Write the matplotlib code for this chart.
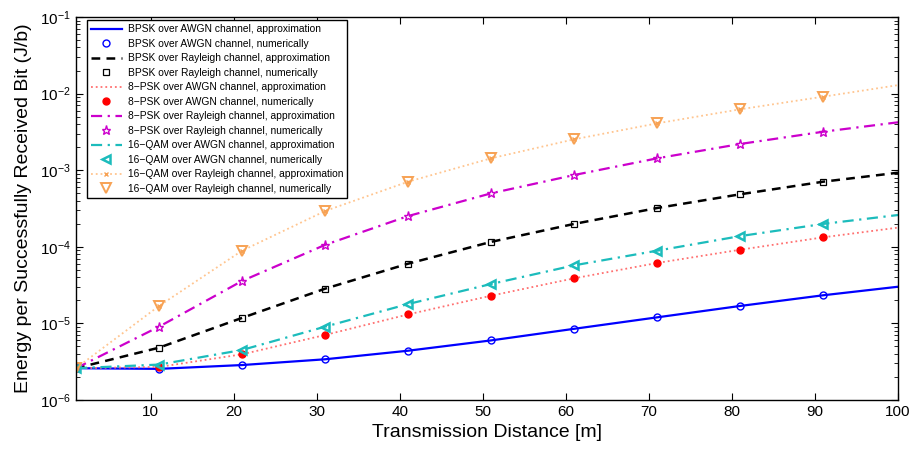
import numpy as np
import matplotlib.pyplot as plt

plt.rcParams['font.family'] = ['Liberation Sans', 'DejaVu Sans']

# distances [m]; approximation curves sampled at the same points plus the end point
d_num = [1, 11, 21, 31, 41, 51, 61, 71, 81, 91]
d_app = [1, 11, 21, 31, 41, 51, 61, 71, 81, 91, 100]

# energy per successfully received bit (J/b)
bpsk_awgn = [2.6e-6, 2.55e-6, 2.86e-6, 3.4e-6, 4.4e-6, 6.0e-6, 8.5e-6, 1.2e-5, 1.69e-5, 2.33e-5, 3.01e-5]
bpsk_ray = [2.6e-6, 4.82e-6, 1.18e-5, 2.84e-5, 6.02e-5, 1.16e-4, 1.99e-4, 3.21e-4, 4.85e-4, 7.08e-4, 9.27e-4]
psk8_awgn = [2.6e-6, 2.7e-6, 3.95e-6, 7.06e-6, 1.31e-5, 2.30e-5, 3.88e-5, 6.15e-5, 9.16e-5, 1.33e-4, 1.78e-4]
psk8_ray = [2.6e-6, 9.06e-6, 3.58e-5, 1.06e-4, 2.52e-4, 4.99e-4, 8.65e-4, 1.43e-3, 2.20e-3, 3.18e-3, 4.22e-3]
qam16_awgn = [2.6e-6, 2.9e-6, 4.5e-6, 9.06e-6, 1.79e-5, 3.27e-5, 5.73e-5, 8.9e-5, 1.38e-4, 1.99e-4, 2.60e-4]
qam16_ray = [2.6e-6, 1.69e-5, 8.9e-5, 2.93e-4, 7.08e-4, 1.43e-3, 2.53e-3, 4.09e-3, 6.24e-3, 9.12e-3, 1.29e-2]

fig = plt.figure(figsize=(9.2, 4.54), dpi=100)
ax = fig.add_axes([76/920, 54/454, 822/920, 383/454])

orange_line = '#FFC58F'
orange_mk = '#F7A254'
cyan = '#1CBCBC'

ax.semilogy(d_app, bpsk_awgn, '-', color='#0000FF', lw=1.6, label='BPSK over AWGN channel, approximation')
ax.semilogy(d_num, bpsk_awgn[:10], 'o', color='#0000FF', mfc='none', ms=5, mew=1.0, label='BPSK over AWGN channel, numerically')
ax.semilogy(d_app, bpsk_ray, '--', color='black', lw=1.8, dashes=(3.5, 2.5), label='BPSK over Rayleigh channel, approximation')
ax.semilogy(d_num, bpsk_ray[:10], 's', color='black', mfc='none', ms=4.5, mew=0.9, label='BPSK over Rayleigh channel, numerically')
ax.semilogy(d_app, psk8_awgn, ':', color='#FF7070', lw=1.3, label='8\u2212PSK over AWGN channel, approximation')
ax.semilogy(d_num, psk8_awgn[:10], 'o', color='#FF0000', ms=5, label='8\u2212PSK over AWGN channel, numerically')
ax.semilogy(d_app, psk8_ray, '-.', color='#CC00CC', lw=1.6, dashes=(5, 2.5, 1, 2.5), label='8\u2212PSK over Rayleigh channel, approximation')
ax.semilogy(d_num, psk8_ray[:10], '*', color='#CC00CC', mfc='none', ms=6.5, mew=1.0, label='8\u2212PSK over Rayleigh channel, numerically')
ax.semilogy(d_app, qam16_awgn, '-.', color=cyan, lw=1.6, dashes=(5, 2.5, 1, 2.5), label='16\u2212QAM over AWGN channel, approximation')
ax.semilogy(d_num, qam16_awgn[:10], '<', color=cyan, mfc='none', ms=6, mew=1.8, label='16\u2212QAM over AWGN channel, numerically')
ax.semilogy(d_app, qam16_ray, ':', color=orange_line, lw=1.3, marker='x', ms=3.5, mec=orange_mk, markevery=list(range(10)), label='16\u2212QAM over Rayleigh channel, approximation')
ax.semilogy(d_num, qam16_ray[:10], 'v', color=orange_mk, mfc='none', ms=6.5, mew=1.4, label='16\u2212QAM over Rayleigh channel, numerically')

ax.set_xlim(1, 100)
ax.set_ylim(1e-6, 1e-1)
ax.set_xticks([10, 20, 30, 40, 50, 60, 70, 80, 90, 100])
ax.tick_params(which='both', direction='in', top=True, right=True, labelsize=11)
ax.tick_params(which='major', length=5)
ax.tick_params(which='minor', length=3)
for s in ax.spines.values():
    s.set_linewidth(1.0)

ax.set_xlabel('Transmission Distance [m]', fontsize=14, labelpad=4)
ax.set_ylabel('Energy per Successfully Received Bit (J/b)', fontsize=14, labelpad=6)

leg = ax.legend(loc='upper left', bbox_to_anchor=(0.013, 0.992), fontsize=7.4, handlelength=3.0,
                labelspacing=0.44, borderpad=0.4, handletextpad=0.6, borderaxespad=0,
                fancybox=False, framealpha=1, edgecolor='black')
leg.get_frame().set_linewidth(1.0)

fig.savefig('out.png', dpi=100)
